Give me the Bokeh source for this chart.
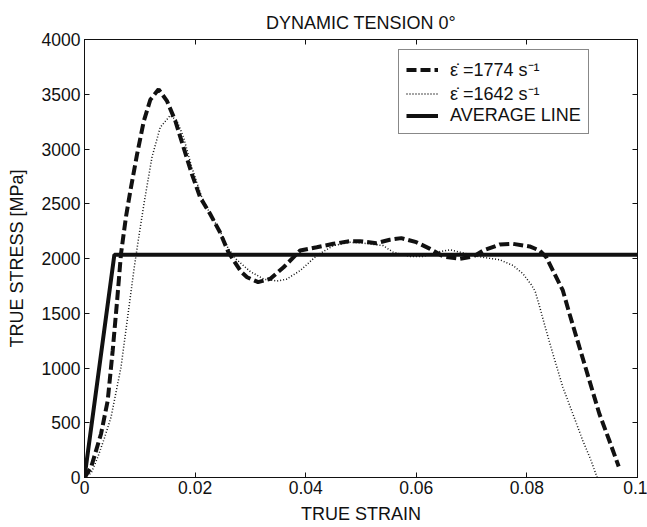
from bokeh.plotting import figure
from bokeh.models import LinearAxis, FixedTicker, Legend, LegendItem, Range1d
from bokeh.embed import file_html
from bokeh.resources import INLINE

# ---- data ----
strain_1774 = [0, 0.0012, 0.0030, 0.0042, 0.0051, 0.0059, 0.0066, 0.0075, 0.0083, 0.0095,
               0.0107, 0.0119, 0.0134, 0.0149, 0.0164, 0.0179, 0.0194, 0.0209, 0.0227, 0.0245,
               0.0260, 0.0270, 0.0283, 0.0294, 0.0314, 0.0336, 0.0360, 0.0390, 0.0420, 0.0450,
               0.0480, 0.0498, 0.0528, 0.0552, 0.0573, 0.0600, 0.0625, 0.0649, 0.0679, 0.0703,
               0.0721, 0.0751, 0.0775, 0.0805, 0.0823, 0.0835, 0.0850, 0.0865, 0.0877, 0.0895,
               0.0913, 0.0931, 0.0949, 0.0966]
stress_1774 = [0, 94, 400, 703, 1160, 1616, 2043, 2380, 2620, 2950,
               3250, 3450, 3545, 3440, 3260, 3016, 2773, 2560, 2408, 2240,
               2060, 1980, 1880, 1829, 1784, 1815, 1920, 2073, 2103, 2134,
               2158, 2158, 2140, 2171, 2186, 2149, 2088, 2018, 1997, 2018,
               2073, 2128, 2134, 2110, 2073, 2012, 1860, 1708, 1495, 1190,
               886, 582, 338, 100]

strain_1642 = [0, 0.0012, 0.0024, 0.0036, 0.0048, 0.0066, 0.0078, 0.0090, 0.0099, 0.0108,
               0.0122, 0.0137, 0.0155, 0.0167, 0.0179, 0.0194, 0.0212, 0.0227, 0.0245, 0.0260,
               0.0275, 0.0300, 0.0325, 0.0348, 0.0365, 0.0390, 0.0420, 0.0450, 0.0480, 0.0504,
               0.0540, 0.0558, 0.0588, 0.0612, 0.0637, 0.0661, 0.0679, 0.0703, 0.0727, 0.0751,
               0.0775, 0.0793, 0.0808, 0.0815, 0.0823, 0.0835, 0.0847, 0.0865, 0.0883, 0.0901,
               0.0916, 0.0927]
stress_1642 = [0, 40, 185, 360, 551, 1007, 1464, 1920, 2225, 2514,
               2925, 3199, 3306, 3260, 3108, 2834, 2560, 2410, 2250, 2090,
               1990, 1880, 1810, 1795, 1810, 1890, 2027, 2118, 2149, 2140,
               2118, 2058, 2018, 2018, 2058, 2079, 2058, 2027, 2006, 1988,
               1936, 1860, 1760, 1700, 1560, 1340, 1130, 825, 582, 338,
               155, 0]

strain_avg = [0, 0.0054, 0.1]
stress_avg = [0, 2035, 2035]

x_ticks = [0, 0.02, 0.04, 0.06, 0.08, 0.1]
x_tick_labels = ["0", "0.02", "0.04", "0.06", "0.08", "0.1"]
y_ticks = [0, 500, 1000, 1500, 2000, 2500, 3000, 3500, 4000]
y_tick_labels = [str(v) for v in y_ticks]

labels = ["\u03b5\u0307 =1774 s\u207b\u00b9", "\u03b5\u0307 =1642 s\u207b\u00b9", "AVERAGE LINE"]

FONT = "Liberation Sans"
INK = "#111111"

p = figure(width=647, height=527, x_range=Range1d(0, 0.1), y_range=Range1d(0, 4000),
           output_backend="svg", toolbar_location=None,
           min_border_left=84, min_border_right=10, min_border_top=39, min_border_bottom=50)

p.title.text = "DYNAMIC TENSION 0\u00b0"
p.title.align = "center"
p.title.text_font = FONT
p.title.text_font_size = "18px"
p.title.text_font_style = "normal"
p.title.text_color = INK
p.title.standoff = 13

p.xgrid.visible = False
p.ygrid.visible = False
p.outline_line_color = INK
p.outline_line_width = 1
p.outline_line_alpha = 1
p.background_fill_color = "white"
p.border_fill_color = "white"


def style_axis(ax, ticks, overrides, show_labels):
    ax.ticker = FixedTicker(ticks=ticks)
    ax.major_tick_in = 5
    ax.major_tick_out = 0
    ax.minor_tick_line_color = None
    ax.axis_line_color = INK
    ax.major_tick_line_color = INK
    ax.major_label_text_font = FONT
    if show_labels:
        ax.major_label_overrides = overrides
        ax.major_label_text_font_size = "17.5px"
        ax.major_label_text_color = INK
    else:
        ax.major_label_text_font_size = "1px"
        ax.major_label_text_color = None
        ax.major_label_standoff = 0


xa = p.xaxis[0]
style_axis(xa, x_ticks, dict(zip(x_ticks, x_tick_labels)), True)
xa.major_label_standoff = 3
xa.axis_label = "TRUE STRAIN"
xa.axis_label_standoff = 7

ya = p.yaxis[0]
style_axis(ya, y_ticks, dict(zip(y_ticks, y_tick_labels)), True)
ya.major_label_standoff = 4
ya.axis_label = "TRUE STRESS [MPa]"
ya.axis_label_standoff = 12

for ax in (xa, ya):
    ax.axis_label_text_font = FONT
    ax.axis_label_text_font_size = "18px"
    ax.axis_label_text_font_style = "normal"
    ax.axis_label_text_color = INK

top = LinearAxis()
style_axis(top, x_ticks, {}, False)
p.add_layout(top, "above")
right = LinearAxis()
style_axis(right, y_ticks, {}, False)
p.add_layout(right, "right")

r1 = p.line(strain_1774, stress_1774, line_color=INK, line_width=4, line_dash="10 4")
r2 = p.line(strain_1642, stress_1642, line_color=INK, line_width=1.5, line_dash="1 2")
r3 = p.line(strain_avg, stress_avg, line_color=INK, line_width=4)

legend = Legend(items=[LegendItem(label=labels[0], renderers=[r1]),
                       LegendItem(label=labels[1], renderers=[r2]),
                       LegendItem(label=labels[2], renderers=[r3])],
                location=(314, 343))
legend.border_line_color = INK
legend.border_line_width = 1
legend.background_fill_alpha = 1
legend.padding = 7
legend.spacing = 0
legend.margin = 0
legend.glyph_width = 32
legend.glyph_height = 21
legend.label_height = 21
legend.label_standoff = 12
legend.label_text_font = FONT
legend.label_text_font_size = "18px"
legend.label_text_color = INK
p.add_layout(legend)

open("out.html", "w").write(file_html(p, INLINE))
